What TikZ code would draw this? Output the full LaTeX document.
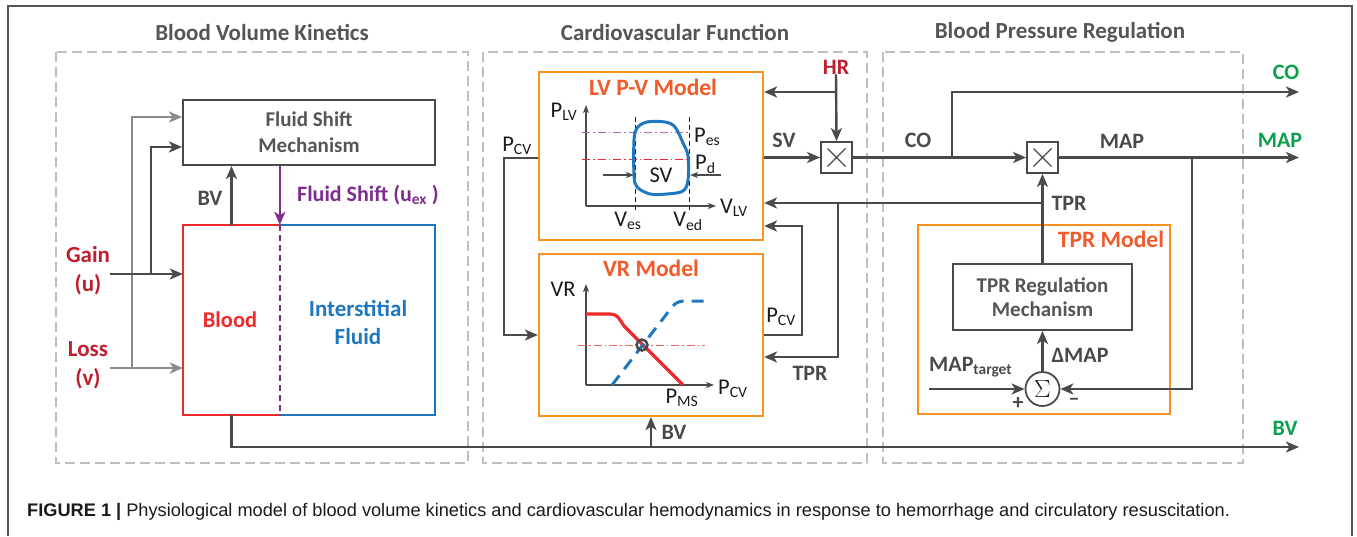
\documentclass[tikz,border=0pt]{standalone}
\usepackage{fontspec}
\setmainfont{Carlito}
\newfontfamily\capfont{Liberation Sans}
\usetikzlibrary{arrows.meta,calc}
\definecolor{dk}{HTML}{4A4A4A}
\definecolor{lg}{HTML}{8A8A8A}
\definecolor{secg}{HTML}{BFBFBF}
\definecolor{txtg}{HTML}{555555}
\definecolor{rlab}{HTML}{BE1E2D}
\definecolor{bred}{HTML}{EE2A2A}
\definecolor{bblue}{HTML}{1F77C0}
\definecolor{purp}{HTML}{7F2C8F}
\definecolor{obox}{HTML}{F7931E}
\definecolor{otit}{HTML}{F15A29}
\definecolor{grn}{HTML}{0BA14B}
\definecolor{ink}{HTML}{1A1A1A}
\begin{document}
\begin{tikzpicture}[x=1pt,y=-1pt,
  ln/.style={draw=dk,line width=2.4pt},
  arr/.style={ln,-{Stealth[length=13pt,width=11pt,inset=3.5pt]}},
  arrg/.style={draw=lg,line width=2.4pt,-{Stealth[length=13pt,width=11pt,inset=3.5pt]}},
  thinarr/.style={draw=dk,line width=1.1pt,-{Stealth[length=8pt,width=6pt,inset=2pt]}},
  secbox/.style={draw=secg,line width=1.3pt,dash pattern=on 10pt off 5pt},
  sectitle/.style={font=\fontsize{23}{26}\selectfont\bfseries,text=txtg},
  lab/.style={font=\fontsize{22}{24}\selectfont\bfseries,text=dk,inner sep=0pt},
  plab/.style={font=\fontsize{22.5}{24}\selectfont,text=ink,inner sep=0pt},
  mbox/.style={draw=dk,line width=2pt,minimum width=252pt,minimum height=65pt,align=center,font=\fontsize{21}{26}\selectfont\bfseries,text=txtg},
  omodel/.style={draw=obox,line width=2.2pt,minimum width=224pt},
  otitle/.style={font=\fontsize{23.5}{26}\selectfont\bfseries,text=otit,inner sep=0pt},
  multbox/.style={draw=dk,line width=1.8pt,minimum size=31pt,inner sep=0pt}
]
\path[use as bounding box] (0,0) rectangle (1357,536);
% outer frame
\draw[txtg,line width=1.4pt] (8,536) -- (8,6) -- (1352,6) -- (1352,536);

% sections
\draw[secbox] (56,52) rectangle (468,463);
\draw[secbox] (483,52) rectangle (867,463);
\draw[secbox] (883,52) rectangle (1243,463);
\node[sectitle] (t1) at (262,32) {Blood Volume Kinetics};
\node[sectitle] (t2) at (675,32) {Cardiovascular Function};
\node[sectitle] (t3) at (1060,32) {Blood Pressure Regulation};

% ---------- Section 1 ----------
\node[mbox] (fsm) at (309,132.5) {Fluid Shift\\Mechanism};
\node[minimum width=97pt,minimum height=190pt,inner sep=0pt] (blood) at (231.5,320) {};
\node[minimum width=155pt,minimum height=190pt,inner sep=0pt] (isf) at (357.5,320) {};
\node[font=\fontsize{22.5}{24}\selectfont\bfseries,text=bred] (bloodt) at (230,320) {Blood};
\node[font=\fontsize{23}{28}\selectfont\bfseries,text=bblue,align=center] (isft) at (358,322) {Interstitial\\Fluid};
\draw[bred,line width=2pt] (blood.north east) -- (blood.north west) -- (blood.south west) -- (blood.south east);
\draw[bblue,line width=2pt] (isf.north west) -- (isf.north east) -- (isf.south east) -- (isf.south west);
\draw[purp,line width=2pt,dash pattern=on 6pt off 4pt] (isf.north west) -- (isf.south west);
\draw[purp,line width=2.4pt,-{Stealth[length=13pt,width=11pt,inset=3.5pt]}] (fsm.south -| isf.west) -- (isf.north west);
\node[lab,text=purp,anchor=west] (fsl) at (297,195) {Fluid Shift (u\textsubscript{ex} )};
\draw[arr] (blood.north) -- (blood.north |- fsm.south);
\node[lab] (bvl) at (210,198) {BV};

\node[font=\fontsize{23}{29}\selectfont\bfseries,text=rlab,align=center] (gain) at (88,271) {Gain\\(u)};
\node[font=\fontsize{23}{29}\selectfont\bfseries,text=rlab,align=center] (loss) at (88,365) {Loss\\(v)};
\coordinate (gainS) at (110,274);
\coordinate (lossS) at (110,368);
\draw[arrg] (132,368) |- (fsm.west |- 0,117);
\draw[arrg] (lossS) -- (blood.west |- lossS);
\draw[arr] (151,274) |- (fsm.west |- 0,147);
\draw[arr] (gainS) -- (blood.west |- gainS);

% BV to output
\coordinate (bvOut) at (1299,447);
\draw[arr] (blood.south) |- (bvOut);
\node[lab,text=grn] (bvg) at (1285,428) {BV};

% ---------- Section 2 ----------
\node[omodel,minimum height=168pt] (lv) at (651,156) {};
\node[otitle] (lvt) at (653,87) {LV P-V Model};
\node[omodel,minimum height=162pt] (vr) at (651,335) {};
\node[otitle] (vrt) at (651,268) {VR Model};

% LV plot
\draw[thinarr] (586,206) -- (586,105);
\draw[thinarr] (586,206) -- (716,206);
\draw[ink,line width=1pt,dash pattern=on 5pt off 3pt] (635,117) -- (635,211);
\draw[ink,line width=1pt,dash pattern=on 5pt off 3pt] (689,117) -- (689,211);
\draw[purp!70,line width=1pt,dash pattern=on 8pt off 3pt on 1.5pt off 3pt] (582,132) -- (689,132);
\draw[bred,line width=1pt,dash pattern=on 8pt off 3pt on 1.5pt off 3pt] (582,159) -- (689,159);
\draw[bblue,line width=3pt] plot[smooth cycle,tension=0.55] coordinates {(634,140) (637,128) (647,122) (665,122) (675,127) (683,143) (688,156) (688,180) (683,191) (667,194) (650,194) (637,187) (634,175)};
\draw[thinarr] (603,175) -- (634,175);
\draw[thinarr] (721,175) -- (690,175);
\node[plab] (plv) at (564,112) {P\textsubscript{LV}};
\node[plab,anchor=west] (vlv) at (720,208) {V\textsubscript{LV}};
\node[plab,anchor=west] (pes) at (694,137) {P\textsubscript{es}};
\node[plab,anchor=west] (pd) at (695,164) {P\textsubscript{d}};
\node[plab] (sv) at (661,175) {SV};
\node[plab] (ves) at (628,221) {V\textsubscript{es}};
\node[plab] (ved) at (688,221) {V\textsubscript{ed}};

% VR plot
\draw[thinarr] (586,385) -- (586,284);
\draw[thinarr] (586,385) -- (714,385);
\draw[bred!75,line width=1pt,dash pattern=on 8pt off 3pt on 1.5pt off 3pt] (578,345) -- (705,345);
\draw[bred,line width=3.2pt] (586,314) -- (610,314) .. controls (617,314) and (619,318) .. (624,326) -- (683,385);
\draw[bblue,line width=3pt,dash pattern=on 12pt off 8pt] (612,385) -- (672,307) .. controls (677,301) and (681,301) .. (687,301) -- (705,301);
\draw[dk,line width=2.5pt] (642,345) circle (5.5);
\node[plab] (vrl) at (563,289) {VR};
\node[plab,anchor=west] (pcv2) at (718,389) {P\textsubscript{CV}};
\node[plab] (pms) at (682,398) {P\textsubscript{MS}};

% Multiply boxes
\node[multbox] (m1) at (836.5,157.5) {};
\draw[dk,line width=1.3pt] ($(m1.center)+(-9,-9)$) -- ($(m1.center)+(9,9)$) ($(m1.center)+(-9,9)$) -- ($(m1.center)+(9,-9)$);
\node[multbox] (m2) at (1042.5,157.5) {};
\draw[dk,line width=1.3pt] ($(m2.center)+(-9,-9)$) -- ($(m2.center)+(9,9)$) ($(m2.center)+(-9,9)$) -- ($(m2.center)+(9,-9)$);

\node[lab,text=rlab] (hr) at (836,67) {HR};
\draw[arr] (hr.south) -- (m1.north);
\draw[arr] (hr.south |- 0,92) -- (lv.east |- 0,92);
\draw[arr] (lv.east |- m1) -- (m1.west);
\node[lab] (svl) at (784,140) {SV};

% P_CV from LV to VR
\draw[arr] (lv.west |- 0,158) -- (504,158) |- (vr.west);
\node[plab] (pcv1) at (517,146) {P\textsubscript{CV}};
% P_CV from VR to LV
\draw[arr] (vr.east) -- (802,335) |- (lv.east |- 0,226);
\node[plab] (pcv3) at (781,317) {P\textsubscript{CV}};

% ---------- Section 3 ----------
\node[draw=obox,line width=2.2pt,minimum width=252pt,minimum height=189pt] (tprm) at (1044,319.5) {};
\node[otitle] (tprt) at (1111,239) {TPR Model};
\node[mbox,minimum width=179pt,minimum height=66pt,font=\fontsize{21}{24}\selectfont\bfseries] (treg) at (1042.5,297) {TPR Regulation\\Mechanism};
\node[circle,draw=dk,line width=1.8pt,minimum size=34pt,inner sep=0pt] (sig) at (1042.5,389) {};
\node[text=ink,font=\fontsize{26}{28}\selectfont] (sigt) at (1042.5,389) {$\Sigma$};

\draw[arr] (m1.east) -- (m2.west);
\node[lab] (col) at (918,140) {CO};
\coordinate (coOut) at (1299,92);
\draw[arr] (952,157.5) |- (coOut);
\node[lab,text=grn] (cog) at (1286,72) {CO};
\coordinate (mapOut) at (1299,157.5);
\draw[arr] (m2.east) -- (mapOut);
\node[lab] (mapl) at (1122,141) {MAP};
\node[lab,text=grn] (mapg) at (1280,140) {MAP};
\draw[arr] (1192,157.5) |- (sig.east);

\draw[arr] (treg.north) -- (m2.south);
\node[lab] (tprl) at (1069,203) {TPR};
% TPR to LV and VR
\draw[arr] (m2.south |- 0,203) -- (lv.east |- 0,203);
\draw[arr] (838,203) |- (vr.east |- 0,357);
\node[lab] (tprl2) at (810,373) {TPR};

\draw[arr] (sig.north) -- (treg.south);
\node[lab] (dmap) at (1080,355) {ΔMAP};
\coordinate (mtS) at (929,389);
\draw[arr] (mtS) -- (sig.west);
\node[lab,anchor=west] (mapt) at (929,367) {MAP\textsubscript{target}};
\node[lab] (plus) at (1018,403) {+};
\node[lab] (minus) at (1074,402) {\textendash};

% BV branch to VR
\draw[arr] (vr.south |- bvOut) -- (vr.south);
\node[lab] (bvl2) at (674,432) {BV};

% caption
\node[anchor=west,font=\capfont\fontsize{18.2}{20}\selectfont,text=ink,inner sep=0pt] (cap) at (27,512) {\textbf{FIGURE 1 |} Physiological model of blood volume kinetics and cardiovascular hemodynamics in response to hemorrhage and circulatory resuscitation.};
\end{tikzpicture}
\end{document}
